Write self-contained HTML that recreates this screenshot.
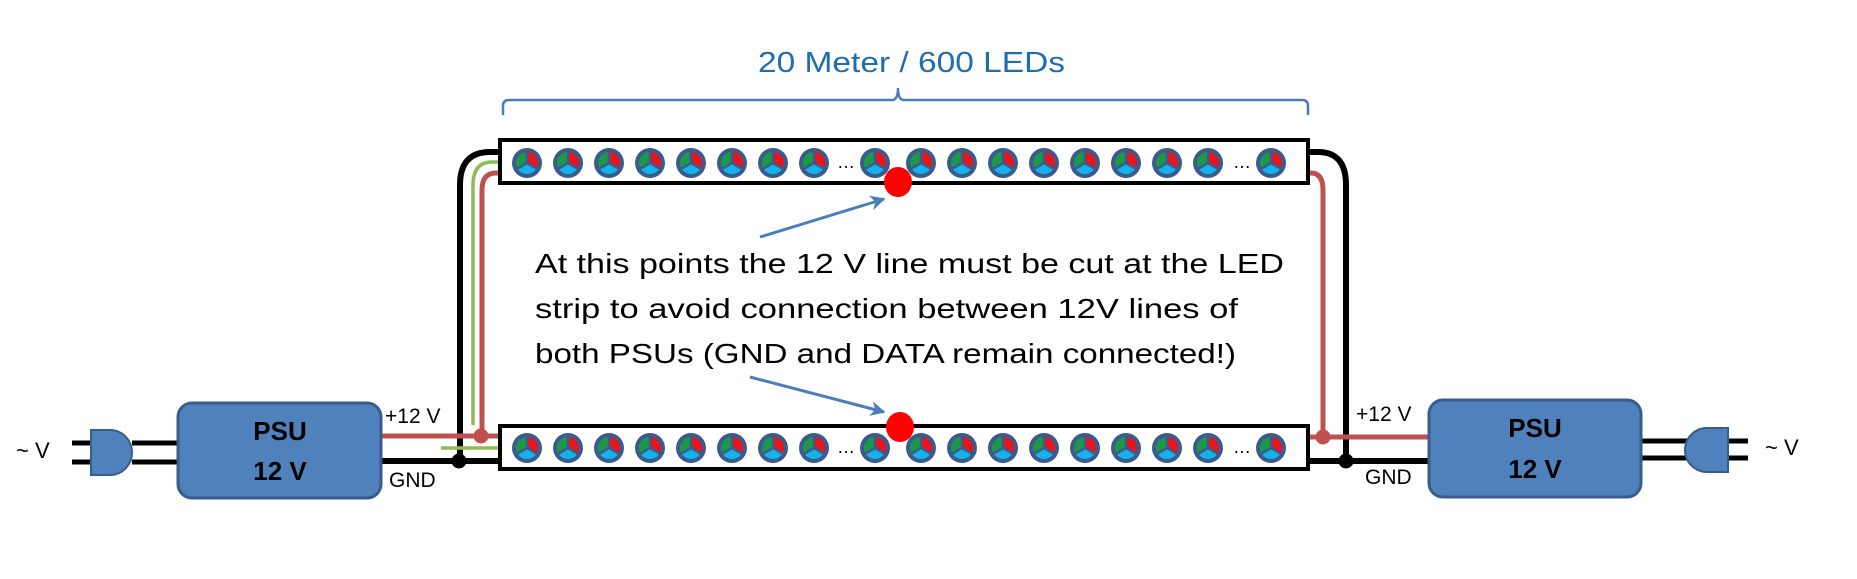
<!DOCTYPE html>
<html><head><meta charset="utf-8"><style>
html,body{margin:0;padding:0;background:#fff;}
svg{display:block;}
text{font-family:"Liberation Sans",sans-serif;}
</style></head><body>
<svg width="1857" height="579" viewBox="0 0 1857 579" xmlns="http://www.w3.org/2000/svg">
<defs>
<g id="led">
<circle r="15" fill="#3B5A8E"/>
<path d="M0,0 L0,-11 A11,11 0 0 1 9.5,5.5 Z" fill="#E8141B"/>
<path d="M0,0 L0,-11 A11,11 0 0 0 -9.5,5.5 Z" fill="#1A9A48"/>
<path d="M0,0 L9.5,5.5 A11,11 0 0 1 -9.5,5.5 Z" fill="#14B4EA"/>
<path d="M0,0 L0,-12 M0,0 L10.4,6 M0,0 L-10.4,6" stroke="#3B5A8E" stroke-width="2.5"/>
</g>
<marker id="ah" viewBox="0 0 10 10" refX="9" refY="5" markerWidth="5" markerHeight="5" orient="auto">
<path d="M0,0 L10,5 L0,10 L3,5 Z" fill="#4A7EBB"/>
</marker>
</defs>

<!-- title and brace -->
<text x="758" y="72" font-size="29" fill="#1F6CB0" textLength="307" lengthAdjust="spacingAndGlyphs">20 Meter / 600 LEDs</text>
<path d="M503,115 V106 Q503,100 509,100 H892 Q898,100 898,88 Q898,100 904,100 H1302 Q1308,100 1308,106 V115" fill="none" stroke="#4A7EBB" stroke-width="2.5"/>

<!-- wires -->
<g fill="none" stroke-linecap="butt">
<path d="M500,152 H490 Q460,152 460,185 V461" stroke="#000" stroke-width="6"/>
<path d="M500,162 H492 Q473,162 473,185 V425" stroke="#8DBB55" stroke-width="3.5"/>
<path d="M500,173 H496 Q482,173 482,190 V437" stroke="#C0504D" stroke-width="5"/>
<path d="M441,448 H500" stroke="#8DBB55" stroke-width="3.5"/>
<path d="M381,436 H500" stroke="#C0504D" stroke-width="5"/>
<path d="M381,461 H500" stroke="#000" stroke-width="6"/>
<path d="M1308,152 H1318 Q1346,152 1346,185 V461" stroke="#000" stroke-width="6"/>
<path d="M1308,173 H1311 Q1323,173 1323,190 V437" stroke="#C0504D" stroke-width="5"/>
<path d="M1308,437 H1430" stroke="#C0504D" stroke-width="5"/>
<path d="M1308,461 H1430" stroke="#000" stroke-width="6"/>
<path d="M132,443 H178 M132,462 H178 M72,443 H91 M72,462 H91" stroke="#000" stroke-width="5"/>
<path d="M1641,441 H1690 M1641,458 H1690 M1728,441 H1748 M1728,458 H1748" stroke="#000" stroke-width="5"/>
</g>
<circle cx="481" cy="436" r="7.5" fill="#C0504D"/>
<circle cx="459" cy="461" r="7.5" fill="#000"/>
<circle cx="1323" cy="437" r="7.5" fill="#C0504D"/>
<circle cx="1346" cy="461" r="7.5" fill="#000"/>

<!-- strips -->
<rect x="500" y="140" width="808" height="43" fill="#fff" stroke="#000" stroke-width="4"/>
<rect x="500" y="426" width="808" height="43" fill="#fff" stroke="#000" stroke-width="4"/>
<g>
<use href="#led" x="527" y="163"/><use href="#led" x="568" y="163"/><use href="#led" x="609" y="163"/><use href="#led" x="650" y="163"/><use href="#led" x="691" y="163"/><use href="#led" x="732" y="163"/><use href="#led" x="773" y="163"/><use href="#led" x="814" y="163"/>
<use href="#led" x="875" y="163"/><use href="#led" x="921" y="163"/><use href="#led" x="962" y="163"/><use href="#led" x="1003" y="163"/><use href="#led" x="1044" y="163"/><use href="#led" x="1085" y="163"/><use href="#led" x="1126" y="163"/><use href="#led" x="1167" y="163"/><use href="#led" x="1208" y="163"/>
<use href="#led" x="1271" y="163"/>
<use href="#led" x="527" y="448"/><use href="#led" x="568" y="448"/><use href="#led" x="609" y="448"/><use href="#led" x="650" y="448"/><use href="#led" x="691" y="448"/><use href="#led" x="732" y="448"/><use href="#led" x="773" y="448"/><use href="#led" x="814" y="448"/>
<use href="#led" x="875" y="448"/><use href="#led" x="921" y="448"/><use href="#led" x="962" y="448"/><use href="#led" x="1003" y="448"/><use href="#led" x="1044" y="448"/><use href="#led" x="1085" y="448"/><use href="#led" x="1126" y="448"/><use href="#led" x="1167" y="448"/><use href="#led" x="1208" y="448"/>
<use href="#led" x="1271" y="448"/>
</g>
<text x="837" y="168" font-size="18">…</text>
<text x="1233" y="168" font-size="18">…</text>
<text x="837" y="453" font-size="18">…</text>
<text x="1233" y="453" font-size="18">…</text>

<!-- cut points -->
<ellipse cx="898" cy="182" rx="14" ry="15" fill="#FF0000"/>
<ellipse cx="900" cy="427" rx="14" ry="15" fill="#FF0000"/>

<!-- arrows -->
<line x1="760" y1="237" x2="884" y2="199" stroke="#4A7EBB" stroke-width="3" marker-end="url(#ah)"/>
<line x1="750" y1="377" x2="884" y2="412" stroke="#4A7EBB" stroke-width="3" marker-end="url(#ah)"/>

<!-- note text -->
<text x="535" y="273" font-size="28" textLength="749" lengthAdjust="spacingAndGlyphs">At this points the 12 V line must be cut at the LED</text>
<text x="535" y="318" font-size="28" textLength="703" lengthAdjust="spacingAndGlyphs">strip to avoid connection between 12V lines of</text>
<text x="535" y="363" font-size="28" textLength="701" lengthAdjust="spacingAndGlyphs">both PSUs (GND and DATA remain connected!)</text>

<!-- PSUs -->
<rect x="178" y="403" width="203" height="95" rx="14" fill="#4F81BD" stroke="#385D8A" stroke-width="3"/>
<text x="280" y="440" font-size="26" font-weight="bold" text-anchor="middle">PSU</text>
<text x="280" y="480" font-size="26" font-weight="bold" text-anchor="middle">12 V</text>
<rect x="1429" y="400" width="212" height="97" rx="14" fill="#4F81BD" stroke="#385D8A" stroke-width="3"/>
<text x="1535" y="437" font-size="26" font-weight="bold" text-anchor="middle">PSU</text>
<text x="1535" y="478" font-size="26" font-weight="bold" text-anchor="middle">12 V</text>

<!-- plugs -->
<path d="M91,430 H110 A22,22.5 0 0 1 110,475 H91 Z" fill="#4F81BD" stroke="#385D8A" stroke-width="2"/>
<path d="M1728,428 H1707 A22,22 0 0 0 1707,472 H1728 Z" fill="#4F81BD" stroke="#385D8A" stroke-width="2"/>

<!-- labels -->
<text x="16" y="458" font-size="22">~ V</text>
<text x="1765" y="455" font-size="22">~ V</text>
<text x="385" y="423" font-size="21">+12 V</text>
<text x="389" y="487" font-size="21">GND</text>
<text x="1356" y="421" font-size="21">+12 V</text>
<text x="1365" y="484" font-size="21">GND</text>
</svg>
</body></html>
